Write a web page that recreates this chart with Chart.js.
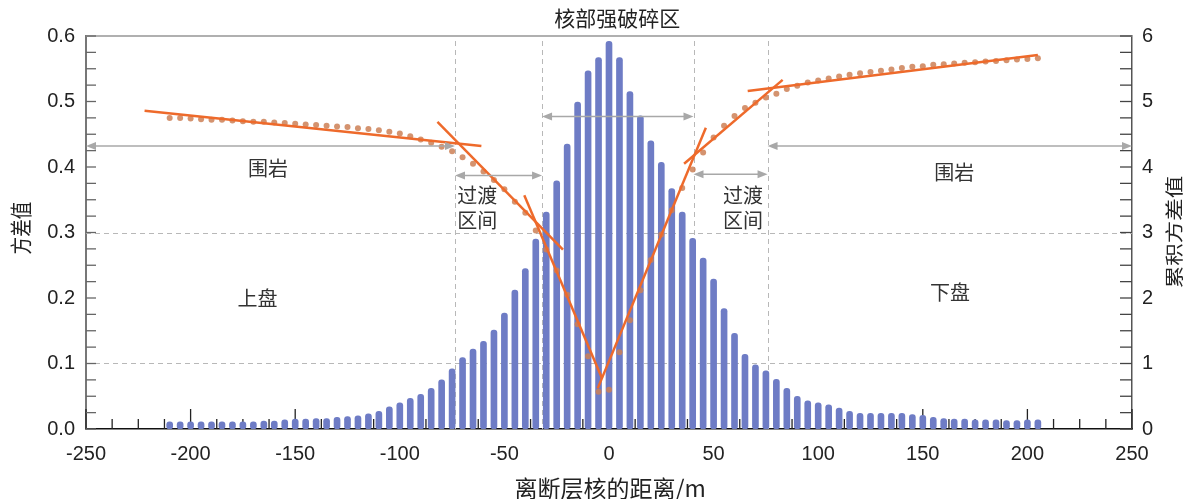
<!DOCTYPE html>
<html>
<head>
<meta charset="utf-8">
<script src="https://cdn.jsdelivr.net/npm/chart.js@4.4.1/dist/chart.umd.min.js"></script>
<style>
body { margin: 0; background: #fff; }
#wrap { width: 1195px; height: 499px; }
</style>
</head>
<body>
<div id="wrap"><canvas id="chart"></canvas></div>
<script>
// distance from fault core (m), one bar / dot every 5 m
const distances = [
  -210, -205, -200, -195, -190, -185, -180, -175, -170, -165, -160, -155, -150, -145,
  -140, -135, -130, -125, -120, -115, -110, -105, -100, -95, -90, -85, -80, -75,
  -70, -65, -60, -55, -50, -45, -40, -35, -30, -25, -20, -15, -10, -5,
  0, 5, 10, 15, 20, 25, 30, 35, 40, 45, 50, 55, 60, 65,
  70, 75, 80, 85, 90, 95, 100, 105, 110, 115, 120, 125, 130, 135,
  140, 145, 150, 155, 160, 165, 170, 175, 180, 185, 190, 195, 200, 205
]

// variance (left axis, bars)
const variance = [
  0.011, 0.011, 0.011, 0.011, 0.011, 0.011, 0.011, 0.011, 0.011, 0.012, 0.012, 0.014, 0.015, 0.015,
  0.016, 0.016, 0.018, 0.019, 0.020, 0.023, 0.027, 0.034, 0.040, 0.047, 0.053, 0.062, 0.075, 0.092,
  0.109, 0.122, 0.134, 0.151, 0.177, 0.212, 0.245, 0.290, 0.331, 0.379, 0.435, 0.499, 0.547, 0.567,
  0.592, 0.567, 0.515, 0.478, 0.440, 0.407, 0.367, 0.331, 0.291, 0.261, 0.229, 0.184, 0.146, 0.114,
  0.098, 0.089, 0.076, 0.062, 0.050, 0.043, 0.040, 0.037, 0.032, 0.027, 0.024, 0.024, 0.024, 0.024,
  0.024, 0.022, 0.021, 0.018, 0.016, 0.015, 0.015, 0.014, 0.014, 0.014, 0.013, 0.013, 0.014, 0.014
]

// cumulative variance (right axis, dots)
const cumulative = [
  4.75, 4.75, 4.74, 4.73, 4.72, 4.72, 4.71, 4.70, 4.69, 4.69, 4.68, 4.67, 4.66, 4.65,
  4.64, 4.63, 4.62, 4.61, 4.59, 4.58, 4.56, 4.54, 4.51, 4.47, 4.42, 4.37, 4.31, 4.24,
  4.15, 4.05, 3.93, 3.80, 3.66, 3.47, 3.30, 3.03, 2.74, 2.42, 2.05, 1.60, 1.11, 0.57,
  0.60, 1.17, 1.66, 2.12, 2.58, 2.97, 3.34, 3.68, 3.96, 4.22, 4.45, 4.63, 4.78, 4.90,
  4.98, 5.06, 5.12, 5.19, 5.24, 5.29, 5.32, 5.35, 5.38, 5.41, 5.43, 5.45, 5.47, 5.49,
  5.51, 5.53, 5.54, 5.56, 5.57, 5.58, 5.59, 5.60, 5.61, 5.62, 5.63, 5.64, 5.65, 5.66
]

// fitted straight segments on the cumulative curve [x, value]
const fitLines = [
  [[-222, 4.86], [-61, 4.32]],
  [[-82, 4.69], [-22, 2.74]],
  [[-40.5, 3.57], [-3.3, 0.77]],
  [[-5.4, 0.62], [46.3, 4.60]],
  [[35.9, 4.05], [83.0, 5.33]],
  [[66.3, 5.16], [205, 5.71]]
]

// zone boundaries (m) and dashed levels (left axis)
const zoneEdges = [-73.6, -32, 40.4, 75.8]
const dashedLevels = [0.1, 0.3]

Chart.defaults.font.family = "'Liberation Sans', 'Noto Sans CJK SC', sans-serif"
Chart.defaults.font.size = 20
Chart.defaults.color = '#222'

const cjk = "'Noto Sans CJK SC', sans-serif"

function seg(ctx, x1, y1, x2, y2) {
  ctx.beginPath()
  ctx.moveTo(x1, y1)
  ctx.lineTo(x2, y2)
  ctx.stroke()
}

function arrowHead(ctx, x, y, dir) {
  ctx.beginPath()
  ctx.moveTo(x, y)
  ctx.lineTo(x - dir * 10, y - 4)
  ctx.lineTo(x - dir * 10, y + 4)
  ctx.closePath()
  ctx.fill()
}

function dblArrow(ctx, x1, x2, y) {
  seg(ctx, x1 + 4, y, x2 - 4, y)
  arrowHead(ctx, x1, y, -1)
  arrowHead(ctx, x2, y, 1)
}

// vertical title, reading bottom to top, stretched along the text
function vText(ctx, text, cx, cy, stretch) {
  ctx.save()
  ctx.translate(cx, cy)
  ctx.rotate(-Math.PI / 2)
  ctx.scale(stretch, 1)
  ctx.fillText(text, 0, 0)
  ctx.restore()
}

const overlay = {
  id: 'overlay',
  beforeDatasetsDraw(chart) {
    const {ctx, chartArea: a, scales: {x, y, y2}} = chart
    ctx.save()

    // top frame line
    ctx.strokeStyle = '#b0b0b0'
    ctx.lineWidth = 2
    seg(ctx, a.left, a.top, a.right, a.top)

    // dashed helper lines
    ctx.setLineDash([5, 4])
    ctx.strokeStyle = '#b8b8b8'
    ctx.lineWidth = 1
    dashedLevels.forEach(v => {
      const py = Math.round(y.getPixelForValue(v)) + 0.5
      seg(ctx, a.left, py, a.right, py)
    })
    zoneEdges.forEach(v => {
      const px = Math.round(x.getPixelForValue(v)) + 0.5
      seg(ctx, px, a.top + 5, px, a.bottom)
    })
    ctx.setLineDash([])

    // inward tick marks
    ctx.strokeStyle = '#222'
    ctx.lineWidth = 1.3
    for (let v = x.min; v <= x.max; v += 12.5) {
      const px = x.getPixelForValue(v)
      const len = v % 50 === 0 ? 20 : 10
      seg(ctx, px, a.bottom, px, a.bottom - len)
    }
    ctx.strokeStyle = '#666'
    for (let v = 0; v <= 0.6001; v += 0.025) {
      const py = y.getPixelForValue(v)
      seg(ctx, a.left, py, a.left + 10, py)
    }
    ctx.strokeStyle = '#444'
    for (let v = 0; v <= 6.001; v += 0.25) {
      const py = y2.getPixelForValue(v)
      seg(ctx, a.right, py, a.right - 12, py)
    }
    ctx.restore()
  },
  afterDatasetsDraw(chart) {
    const {ctx, chartArea: a, scales: {x, y}} = chart
    const px = v => x.getPixelForValue(v)
    const py = v => y.getPixelForValue(v)
    ctx.save()

    // zone arrows
    ctx.strokeStyle = '#a8a8a8'
    ctx.fillStyle = '#a8a8a8'
    ctx.lineWidth = 1.6
    dblArrow(ctx, a.left, px(zoneEdges[0]), py(0.432))
    dblArrow(ctx, px(zoneEdges[3]), a.right, py(0.432))
    dblArrow(ctx, px(zoneEdges[0]), px(zoneEdges[1]), py(0.387))
    dblArrow(ctx, px(zoneEdges[2]), px(zoneEdges[3]), py(0.389))
    dblArrow(ctx, px(zoneEdges[1]), px(zoneEdges[2]), py(0.477))

    // annotations
    ctx.fillStyle = '#333'
    ctx.textAlign = 'center'
    ctx.textBaseline = 'middle'
    ctx.font = '20px ' + cjk
    ctx.fillText('围岩', px(-163), py(0.398))
    ctx.fillText('围岩', px(165), py(0.392))
    ctx.fillText('过渡', px(-63), py(0.356))
    ctx.fillText('区间', px(-63), py(0.319))
    ctx.fillText('过渡', px(64), py(0.356))
    ctx.fillText('区间', px(64), py(0.319))
    ctx.fillText('上盘', px(-168), py(0.2))
    ctx.fillText('下盘', px(163), py(0.208))

    ctx.fillStyle = '#222'
    ctx.font = '21px ' + cjk
    ctx.fillText('核部强破碎区', px(4), a.top - 18)

    // axis titles
    ctx.font = '23px ' + cjk
    ctx.fillText('离断层核的距离/m', px(0.5), a.bottom + 59)
    ctx.font = '22px ' + cjk
    vText(ctx, '方差值', 21, 228, 0.8)
    ctx.font = '18px ' + cjk
    vText(ctx, '累积方差值', 1174, 232, 1.25)

    ctx.restore()
  }
}

const points = (xs, ys) => xs.map((d, i) => ({x: d, y: ys[i]}))

const data = {
  datasets: [
    {
      type: 'bar',
      data: points(distances, variance),
      yAxisID: 'y',
      backgroundColor: '#6e7cc5',
      barThickness: 6,
      borderRadius: 3,
      borderSkipped: false,
      order: 3
    },
    {
      type: 'line',
      data: points(distances, cumulative),
      yAxisID: 'y2',
      showLine: false,
      pointRadius: 3,
      pointBackgroundColor: 'rgba(204,128,86,0.85)',
      pointBorderWidth: 0,
      order: 2
    },
    ...fitLines.map(s => ({
      type: 'line',
      data: s.map(p => ({x: p[0], y: p[1]})),
      yAxisID: 'y2',
      borderColor: '#ee6a2b',
      borderWidth: 2.5,
      pointRadius: 0,
      order: 1
    }))
  ]
}

const config = {
  type: 'bar',
  data: data,
  options: {
    responsive: true,
    maintainAspectRatio: false,
    animation: false,
    layout: { padding: { top: 36, left: 0, right: 0, bottom: 0 } },
    plugins: {
      legend: { display: false },
      tooltip: { enabled: false }
    },
    scales: {
      x: {
        type: 'linear',
        min: -250,
        max: 250,
        offset: false,
        ticks: { stepSize: 50, padding: 13 },
        grid: { display: false, drawTicks: false },
        border: { color: '#111', width: 1.5 },
        afterFit: s => { s.height = 70 }
      },
      y: {
        position: 'left',
        min: 0,
        max: 0.6,
        ticks: { stepSize: 0.1, padding: 11, callback: v => v.toFixed(1) },
        grid: { display: false, drawTicks: false },
        border: { color: '#777', width: 2 },
        afterFit: s => { s.width = 86 }
      },
      y2: {
        position: 'right',
        min: 0,
        max: 6,
        ticks: { stepSize: 1, padding: 10 },
        grid: { display: false, drawTicks: false },
        border: { color: '#555', width: 1.5 },
        afterFit: s => { s.width = 63 }
      }
    }
  },
  plugins: [overlay]
}

const myChart = new Chart(document.getElementById('chart'), config)
</script>
</body>
</html>
